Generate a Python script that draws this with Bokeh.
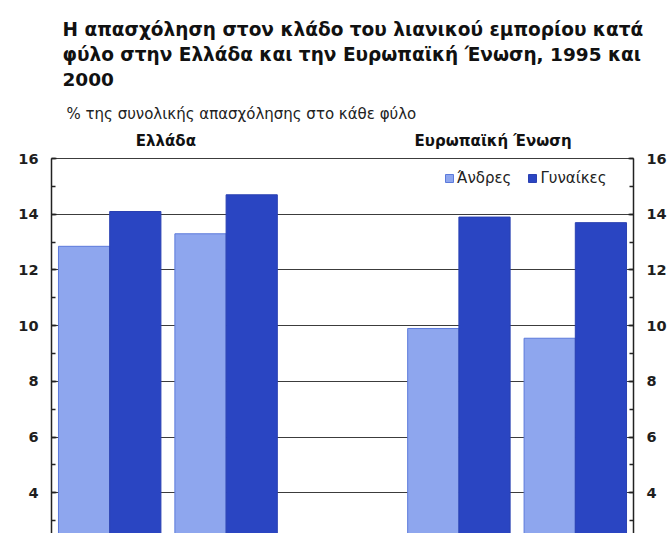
from bokeh.plotting import figure
from bokeh.models import (Range1d, LinearAxis, SingleIntervalTicker, Label, Legend,
                          LegendItem, ColumnDataSource, Title)
from bokeh.embed import file_html
from bokeh.resources import INLINE

# ---- data ----
title_lines = ["Η απασχόληση στον κλάδο του λιανικού εμπορίου κατά",
               "φύλο στην Ελλάδα και την Ευρωπαϊκή Ένωση, 1995 και",
               "2000"]
subtitle = "% της συνολικής απασχόλησης στο κάθε φύλο"
groups = ["Ελλάδα", "Ευρωπαϊκή Ένωση"]
years = ["1995", "2000"]
series = ["Άνδρες", "Γυναίκες"]
men = [12.85, 13.3, 9.9, 9.55]      # Ελλάδα 1995, 2000, ΕΕ 1995, 2000
women = [14.1, 14.7, 13.9, 13.7]
y_ticks = [4, 6, 8, 10, 12, 14, 16]

MEN_FILL, MEN_LINE = "#8EA6EE", "#5C7ADB"
WOM_FILL, WOM_LINE = "#2A45C2", "#2A40B2"
FONT = "DejaVu Sans"

# slot positions: one empty slot between groups
slots_per_group = len(years) + 1
centers, labels = [], []
for g, grp in enumerate(groups):
    for j, yr in enumerate(years):
        centers.append(g * slots_per_group + j + 0.5)
        labels.append(f"{grp} {yr}")
n_slots = len(groups) * slots_per_group - 1
bw = 0.44

src = ColumnDataSource(dict(
    label=labels,
    xm=[c - bw / 2 for c in centers],
    xw=[c + bw / 2 for c in centers],
    men=men, women=women))

top = max(y_ticks)
y_lo, y_hi = 2.54, 17.08   # frame extends a bit above 16 for group labels / legend

p = figure(width=670, height=533, output_backend="svg", toolbar_location=None,
           x_range=Range1d(0, n_slots), y_range=Range1d(y_lo, y_hi),
           min_border_left=51, min_border_right=37, min_border_top=128,
           min_border_bottom=0, y_axis_location=None)
p.xaxis.visible = False
p.xgrid.grid_line_color = None
p.outline_line_color = None
p.background_fill_color = "white"
p.border_fill_color = "white"

r1 = p.vbar(x="xm", top="men", bottom=0, width=bw, source=src,
            fill_color=MEN_FILL, line_color=MEN_LINE, line_width=1)
r2 = p.vbar(x="xw", top="women", bottom=0, width=bw, source=src,
            fill_color=WOM_FILL, line_color=WOM_LINE, line_width=1)

ticker = SingleIntervalTicker(interval=2, num_minor_ticks=2)
p.ygrid.ticker = ticker
p.ygrid.grid_line_color = "#3c3c3c"
p.ygrid.grid_line_width = 1
p.ygrid.bounds = (y_lo, top)
p.ygrid.level = "underlay"

for side in ["left", "right"]:
    ax = LinearAxis(ticker=ticker, bounds=(y_lo, top))
    ax.axis_line_color = "#222222"
    ax.axis_line_width = 1.5
    ax.major_tick_line_color = "#222222"
    ax.major_tick_line_width = 1.5
    ax.minor_tick_line_color = "#222222"
    ax.minor_tick_line_width = 1.5
    ax.major_tick_in = 5
    ax.major_tick_out = 0
    ax.minor_tick_in = 4
    ax.minor_tick_out = 0
    ax.major_label_standoff = 13
    ax.major_label_text_font = FONT
    ax.major_label_text_font_style = "bold"
    ax.major_label_text_font_size = "14.5px"
    ax.major_label_text_color = "#1e1e1e"
    p.add_layout(ax, side)

# titles (added nearest-first)
p.title.visible = False
p.add_layout(Title(text=subtitle, align="left", offset=15, standoff=12,
                   text_font=FONT, text_font_style="normal", text_font_size="15px",
                   text_color="#222222"), "above")
p.add_layout(Title(text="\n".join(title_lines), align="left", offset=11, standoff=13,
                   text_font=FONT, text_font_style="bold", text_font_size="18.5px",
                   text_line_height=1.2, text_color="#111111"), "above")

# group labels
group_offsets = [-2, -24]
for g, grp in enumerate(groups):
    gc = (centers[g * len(years)] + centers[g * len(years) + len(years) - 1]) / 2
    p.add_layout(Label(x=gc, y=top, x_offset=group_offsets[g], y_offset=18, text=grp,
                       text_align="center", text_baseline="middle", text_font=FONT,
                       text_font_style="bold", text_font_size="15px", text_color="#111111"))

legend = Legend(items=[LegendItem(label=series[0], renderers=[r1]),
                       LegendItem(label=series[1], renderers=[r2])],
                orientation="horizontal", location=(393, 346),
                glyph_width=10, glyph_height=10, label_standoff=3, spacing=16,
                padding=0, margin=0, border_line_color=None, background_fill_alpha=0,
                label_text_font=FONT, label_text_font_size="15px",
                label_text_color="#222222", label_height=16)
p.add_layout(legend)

open("out.html", "w").write(file_html(p, INLINE))
